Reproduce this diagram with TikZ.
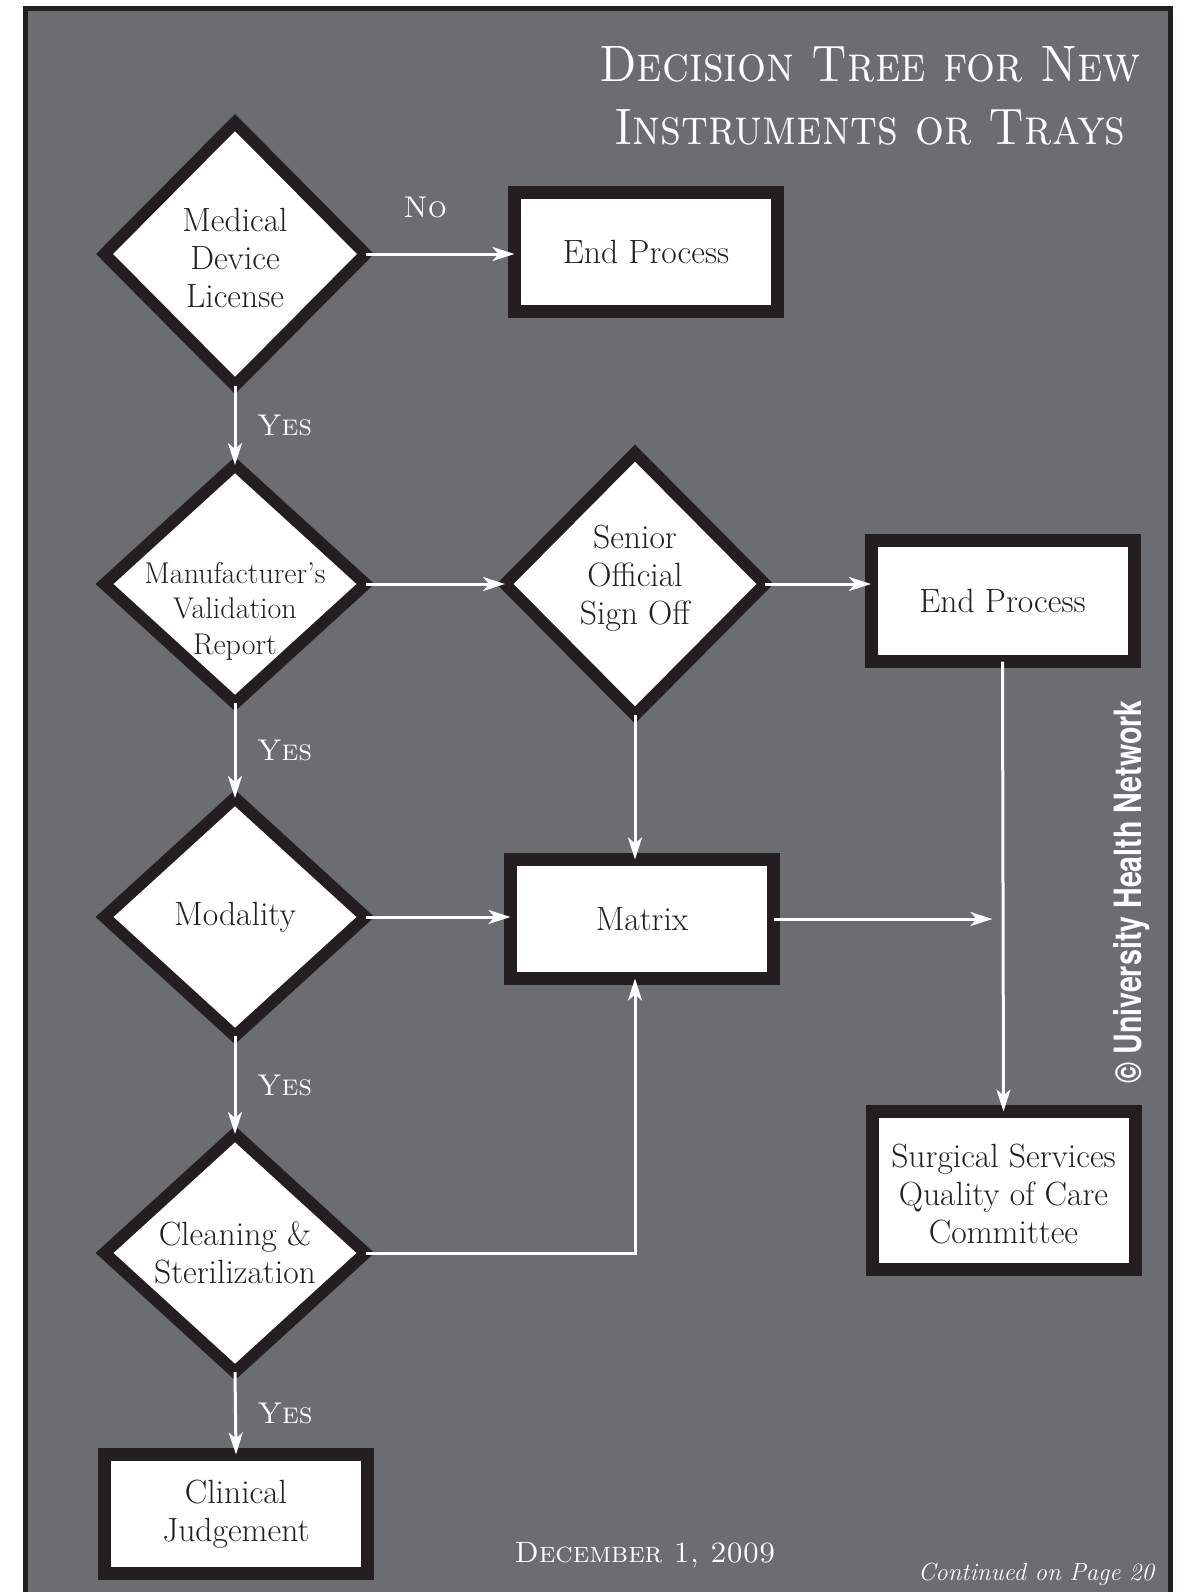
\documentclass[tikz,border=0pt]{standalone}
\usepackage{fontspec}
\newfontfamily\creditfont{TeX Gyre Heros}
\usetikzlibrary{calc,positioning,arrows.meta,shapes.geometric}
\definecolor{board}{RGB}{108,109,113}
\definecolor{ink}{RGB}{35,31,32}

\begin{document}
\begin{tikzpicture}[x=0.5pt,y=-0.5pt,
    decision/.style={diamond,draw=ink,fill=white,line width=6pt,inner sep=0pt,outer sep=0pt,minimum width=130.5pt,minimum height=119pt},
    outcome/.style={rectangle,draw=ink,fill=white,line width=6.5pt,inner sep=0pt,outer sep=0pt,minimum width=131.5pt,minimum height=59.5pt},
    words/.style={align=center,text=ink,font=\fontsize{16.8}{19}\selectfont},
    flow/.style={white,line width=1.5pt,-{Stealth[length=11pt,width=7pt,inset=3pt]}},
    answer/.style={text=white,font=\fontsize{15}{18}\selectfont\scshape},
    heading/.style={text=white,anchor=base,font=\fontsize{25.6}{31}\selectfont\scshape}
    ]

  \useasboundingbox (0,0) rectangle (1185,1592);
  \draw[ink,line width=2.5pt,fill=board] (25.5,8.5) rectangle (1170.5,1620);

  \node(titleA) [heading] at (870,81) {\scalebox{0.89}[1]{Decision Tree for New}};
  \node(titleB) [heading] at (870,144) {\scalebox{0.89}[1]{Instruments or Trays}};

  \node(license) [decision,minimum height=131.5pt] at (235,254) {};
  \node(licenseName) [words,yshift=-2pt] at (license) {Medical\\Device\\License};

  \node(endA) [outcome] at (646,251.5) {};
  \node(endAName) [words] at (endA) {End Process};

  \node(report) [decision] at (235,584) {};
  \node(reportName) [words,yshift=-13.5pt,font=\fontsize{15}{17.8}\selectfont] at (report) {Manufacturer's\\Validation\\Report};

  \node(senior) [decision,minimum width=130pt,minimum height=131pt,right=69.75pt of report] {};
  \node(seniorName) [words,yshift=3pt] at (senior) {Senior\\Official\\Sign Off};

  \node(endB) [outcome,minimum height=60.5pt,right=53pt of senior,yshift=-8.5pt] {};
  \node(endBName) [words] at (endB) {End Process};

  \node(modality) [decision] at (235,917) {};
  \node(modalityName) [words] at (modality) {Modality};

  \node(matrix) [outcome] at (642,919) {};
  \node(matrixName) [words] at (matrix) {Matrix};

  \node(cleaning) [decision] at (235,1253) {};
  \node(cleaningName) [words] at (cleaning) {Cleaning \&\\Sterilization};

  \node(committee) [outcome,minimum height=79pt] at (1003.5,1190.5) {};
  \node(committeeName) [words,yshift=-2pt] at (committee) {Surgical Services\\Quality of Care\\Committee};

  \node(judgement) [outcome] at (236,1514) {};
  \node(judgementName) [words] at (judgement) {Clinical\\Judgement};

  \coordinate(merge) at (endB.south |- matrix.east);

  \draw[flow] (license.east) -- node[answer,above=14pt,pos=0.4] {No} (license.east -| endA.west);
  \draw[flow] (license.south) -- node[answer,right=7pt] {Yes} (report.north);
  \draw[flow] (report.east) -- (senior.west);
  \draw[flow] (senior.east) -- (senior.east -| endB.west);
  \draw[flow] (report.south) -- node[answer,right=7pt] {Yes} (modality.north);
  \draw[flow] (senior.south) -- (senior.south |- matrix.north);
  \draw[flow] (modality.east) -- (modality.east -| matrix.west);
  \draw[flow] (modality.south) -- node[answer,right=7pt] {Yes} (cleaning.north);
  \draw[flow] (cleaning.east) -| (senior.south |- matrix.south);
  \draw[flow,shorten >=5pt] (matrix.east) -- (merge);
  \draw[flow] (endB.south) -- (committee.north);
  \draw[flow] (cleaning.south) -- node[answer,right=7pt] {Yes} (judgement.north);

  \node(date) [text=white,anchor=base,font=\fontsize{14.7}{18}\selectfont\scshape] at (645,1562) {December 1, 2009};
  \node(continued) [text=white,anchor=base,font=\fontsize{12.4}{15}\selectfont\itshape] at (1036,1580) {Continued on Page 20};
  \node(credit) [text=white,rotate=90,font=\creditfont\bfseries\fontsize{18.8}{22}\selectfont] at (1132,892) {\scalebox{0.76}[1]{© University Health Network}};

\end{tikzpicture}
\end{document}
